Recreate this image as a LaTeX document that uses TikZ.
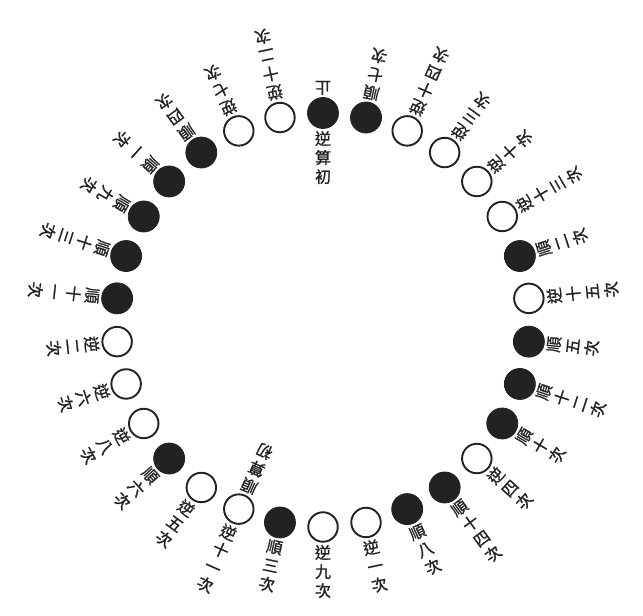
\documentclass[tikz,border=0pt]{standalone}
\usepackage{fontspec}
\usepackage{tikz}
\newfontfamily\cjk[FakeBold=1.2]{Noto Sans CJK TC}
\definecolor{stoneink}{RGB}{34,34,34}

\begin{document}
\begin{tikzpicture}[x=1pt,y=1pt,
  stone/.style={circle,fill=stoneink,draw=stoneink,line width=0.8pt,minimum size=31pt,inner sep=0pt},
  hole/.style={circle,fill=white,draw=stoneink,line width=1.9pt,minimum size=29.5pt,inner sep=0pt},
  lab/.style={align=center,inner sep=0pt,color=stoneink,font=\cjk\fontsize{16}{19}\selectfont}]
  \useasboundingbox (-323,-296) rectangle (320,320);
  \foreach \i/\f/\t in {1/stone/止, 2/stone/順\\七\\次, 3/hole/逆\\十\\四\\次, 4/hole/逆\\三\\次,
      5/hole/逆\\十\\次, 6/hole/逆\\十\\三\\次, 7/stone/順\\二\\次, 8/hole/逆\\十\\五\\次,
      9/stone/順\\五\\次, 10/stone/順\\十\\二\\次, 11/stone/順\\十\\次, 12/hole/逆\\四\\次,
      13/stone/順\\十\\四\\次, 14/stone/順\\八\\次, 15/hole/逆\\一\\次, 16/hole/逆\\九\\次,
      17/stone/順\\三\\次, 18/hole/逆\\十\\一\\次, 19/hole/逆\\五\\次, 20/stone/順\\六\\次,
      21/hole/逆\\八\\次, 22/hole/逆\\六\\次, 23/hole/逆\\二\\次, 24/stone/順\\十\\一\\次,
      25/stone/順\\十\\三\\次, 26/stone/順\\九\\次, 27/stone/順\\一\\次, 28/stone/順\\四\\次,
      29/hole/逆\\七\\次, 30/hole/逆\\十\\二\\次} {
    \pgfmathsetmacro\ang{90-12*(\i-1)}
    \node[\f] (c\i) at (\ang:207) {};
    \node[lab,rotate=\ang+90,anchor=north] (l\i) at (\ang:225) {\t};
  }
  % where the two counts begin
  \node[lab,anchor=north] (start1) at (90:189) {逆\\算\\初};
  \node[lab,rotate=-204,anchor=north] (start18) at (-114:189) {順\\算\\初};
\end{tikzpicture}
\end{document}
